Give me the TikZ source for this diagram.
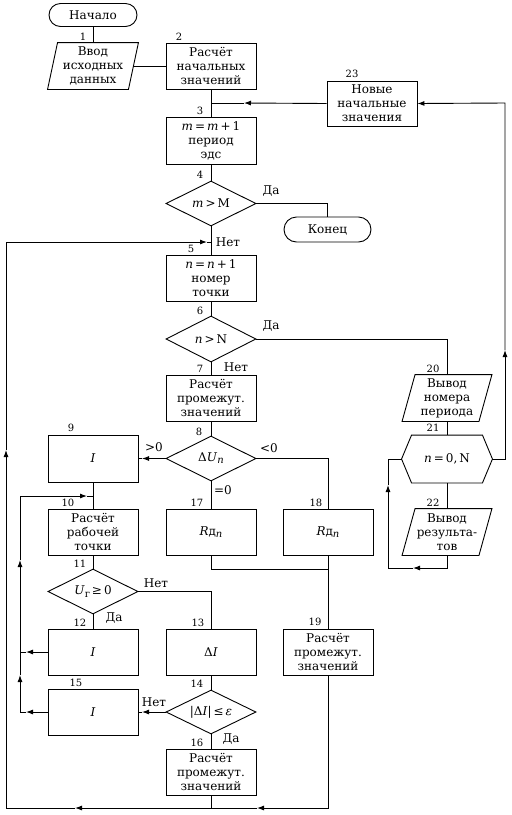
\documentclass[tikz,border=0pt]{standalone}
\usepackage{fontspec}
\setmainfont{DejaVu Serif}
\usetikzlibrary{shapes.geometric,shapes.misc,arrows.meta}
\newcommand{\vi}[1]{\textit{#1}}
\newcommand{\lowsub}[1]{\raisebox{-0.35ex}{\fontsize{10}{10}\selectfont #1}}
\begin{document}
\begin{tikzpicture}[x=1pt,y=-1pt,line width=0.9pt,
  every node/.style={font=\fontsize{12}{14}\selectfont},
  box/.style={draw,rectangle,minimum width=90pt,minimum height=46pt,align=center,inner sep=1pt},
  dia/.style={draw,diamond,aspect=2,minimum width=90pt,minimum height=45pt,inner sep=0pt},
  term/.style={draw,rounded rectangle,minimum width=90pt,minimum height=23pt,inner sep=1pt},
  plg/.style={rectangle,minimum width=76pt,minimum height=46pt,align=center,inner sep=1pt},
  num/.style={font=\fontsize{10}{11}\selectfont,inner sep=0pt},
  lbl/.style={inner sep=0pt},
  arr/.style={-{Latex[length=7pt,width=5pt]}}]
\fill[white] (0,0) rectangle (512,815);
\useasboundingbox (0,0) rectangle (512,815);

% nodes
\node[term] (start) at (93,15) {Начало};
\node[plg,minimum width=80pt] (p1) at (93,66) {Ввод\\исходных\\данных};
\draw ([xshift=5pt]p1.north west) -- ([xshift=5pt]p1.north east) -- ([xshift=-5pt]p1.south east) -- ([xshift=-5pt]p1.south west) -- cycle;
\node[box] (b2) at (211,66) {Расчёт\\начальных\\значений};
\node[box,minimum height=47pt] (b3) at (211,140.5) {\vi{m}\,=\,\vi{m}\,+\,1\\период\\эдс};
\node[box,minimum height=45pt] (b23) at (372,103.5) {Новые\\начальные\\значения};
\node[dia] (d4) at (211,203.5) {\vi{m}\,>\,M};
\node[term,minimum width=89pt,minimum height=25pt] (fin) at (327.5,229.5) {Конец};
\node[box] (b5) at (211,278) {\vi{n}\,=\,\vi{n}\,+\,1\\номер\\точки};
\node[dia,minimum height=46pt] (d6) at (211,339) {\vi{n}\,>\,N};
\node[box] (b7) at (211,398) {Расчёт\\промежут.\\значений};
\node[dia] (d8) at (211,458.5) {Δ\vi{U}\lowsub{\vi{n}}};
\node[box,minimum height=47pt] (b9) at (93,458.5) {\vi{I}};
\node[box] (b10) at (93,532) {Расчёт\\рабочей\\точки};
\node[dia] (d11) at (93,591.5) {\vi{U}\lowsub{г}\,≥\,0};
\node[box] (b12) at (93,652) {\vi{I}};
\node[box] (b15) at (93,712) {\vi{I}};
\node[box] (b13) at (211,652) {Δ\vi{I}};
\node[dia,minimum height=44pt] (d14) at (211,712) {|Δ\vi{I}|\,≤\,\vi{ε}};
\node[box] (b16) at (211,772) {Расчёт\\промежут.\\значений};
\node[box] (b17) at (211,532) {\vi{R}д\lowsub{\vi{n}}};
\node[box] (b18) at (328,532) {\vi{R}д\lowsub{\vi{n}}};
\node[box] (b19) at (328,652) {Расчёт\\промежут.\\значений};
\node[plg] (p20) at (447,398) {Вывод\\номера\\периода};
\draw ([xshift=6.5pt]p20.north west) -- ([xshift=6.5pt]p20.north east) -- ([xshift=-6.5pt]p20.south east) -- ([xshift=-6.5pt]p20.south west) -- cycle;
\node[rectangle,minimum width=90pt,minimum height=47pt,inner sep=0pt] (h21) at (447,459) {\vi{n}\,=\,0,\,N};
\draw (h21.west) -- ([xshift=10pt]h21.north west) -- ([xshift=-10pt]h21.north east) -- (h21.east) -- ([xshift=-10pt]h21.south east) -- ([xshift=10pt]h21.south west) -- cycle;
\node[plg] (p22) at (447,532) {Вывод\\результа-\\тов};
\draw ([xshift=6.5pt]p22.north west) -- ([xshift=6.5pt]p22.north east) -- ([xshift=-6.5pt]p22.south east) -- ([xshift=-6.5pt]p22.south west) -- cycle;

% coordinates
\coordinate (j3) at (211,103);
\coordinate (a23) at (244,103);
\coordinate (r1) at (505,459);
\coordinate (ar) at (505,350);
\coordinate (r2) at (505,103);
\coordinate (c4) at (327.5,203.5);
\coordinate (j5) at (211,242);
\coordinate (a5) at (207,242);
\coordinate (L2) at (6,242);
\coordinate (La) at (6,450);
\coordinate (L1) at (6,808);
\coordinate (ab1) at (75,808);
\coordinate (jb) at (211,808);
\coordinate (ab2) at (257,808);
\coordinate (c19) at (328,808);
\coordinate (c20) at (447,339);
\coordinate (a9) at (142,458.5);
\coordinate (c18) at (328,458.5);
\coordinate (c17) at (211,569);
\coordinate (c18b) at (328,569);
\coordinate (j10) at (93,496);
\coordinate (a10) at (87,496);
\coordinate (k3) at (20,496);
\coordinate (ak2) at (20,560);
\coordinate (k2) at (20,652);
\coordinate (ak1) at (20,675);
\coordinate (k1) at (20,712);
\coordinate (a12) at (26,652);
\coordinate (a15) at (26,712);
\coordinate (c13) at (211,591.5);
\coordinate (a14) at (142,712);
\coordinate (c22) at (447,568);
\coordinate (a22) at (413,568);
\coordinate (c22b) at (388,568);
\coordinate (a22u) at (388,485);
\coordinate (c22c) at (388,459);

% connectors
\draw (start.south) -- (p1.north);
\draw (p1.east) -- (b2.west);
\draw (b2.south) -- (b3.north);
\draw[arr] (b23.west) -- (a23);
\draw (a23) -- (j3);
\draw[arr] (h21.east) -- (r1) -- (ar);
\draw[arr] (ar) -- (r2) -- (b23.east);
\draw (b3.south) -- (d4.north);
\draw (d4.east) -- (c4) -- (fin.north);
\draw (d4.south) -- (b5.north);
\draw[arr] (jb) -- (ab1);
\draw[arr] (ab1) -- (L1) -- (La);
\draw[arr] (La) -- (L2) -- (a5);
\draw (a5) -- (j5);
\draw (b5.south) -- (d6.north);
\draw (d6.east) -- (c20) -- (p20.north);
\draw (d6.south) -- (b7.north);
\draw (b7.south) -- (d8.north);
\draw[arr] (d8.west) -- (a9);
\draw (a9) -- (b9.east);
\draw (d8.east) -- (c18) -- (b18.north);
\draw (d8.south) -- (b17.north);
\draw (b17.south) -- (c17) -- (c18b);
\draw (b18.south) -- (b19.north);
\draw (b9.south) -- (b10.north);
\draw (b10.south) -- (d11.north);
\draw (d11.east) -- (c13) -- (b13.north);
\draw (d11.south) -- (b12.north);
\draw (b13.south) -- (d14.north);
\draw[arr] (d14.west) -- (a14);
\draw (a14) -- (b15.east);
\draw (d14.south) -- (b16.north);
\draw (b16.south) -- (jb);
\draw[arr] (b19.south) -- (c19) -- (ab2);
\draw (ab2) -- (jb);
\draw[arr] (b15.west) -- (a15);
\draw (a15) -- (k1);
\draw[arr] (k1) -- (ak1);
\draw (ak1) -- (k2);
\draw[arr] (b12.west) -- (a12);
\draw (a12) -- (k2);
\draw[arr] (k2) -- (ak2);
\draw[arr] (ak2) -- (k3) -- (a10);
\draw (a10) -- (j10);
\draw (p20.south) -- (h21.north);
\draw (h21.south) -- (p22.north);
\draw[arr] (p22.south) -- (c22) -- (a22);
\draw[arr] (a22) -- (c22b) -- (a22u);
\draw (a22u) -- (c22c) -- (h21.west);

% numbers
\node[num] (n1) at (83,37) {1};
\node[num] (n2) at (179,37) {2};
\node[num] (n3) at (200,111) {3};
\node[num] (n23) at (352,74) {23};
\node[num] (n4) at (200,175) {4};
\node[num] (n5) at (191,249) {5};
\node[num] (n6) at (200,311) {6};
\node[num] (n7) at (200,369) {7};
\node[num] (n8) at (199,432) {8};
\node[num] (n9) at (71,428) {9};
\node[num] (n17) at (197,503) {17};
\node[num] (n18) at (316,503) {18};
\node[num] (n10) at (68,503) {10};
\node[num] (n11) at (80,564) {11};
\node[num] (n12) at (80,623) {12};
\node[num] (n13) at (198,623) {13};
\node[num] (n19) at (315,622) {19};
\node[num] (n14) at (197,684) {14};
\node[num] (n15) at (76,683) {15};
\node[num] (n16) at (197,743) {16};
\node[num] (n20) at (433,369) {20};
\node[num] (n21) at (433,428) {21};
\node[num] (n22) at (433,503) {22};

% branch labels
\node[lbl] (l1) at (271,191) {Да};
\node[lbl] (l2) at (228,242) {Нет};
\node[lbl] (l3) at (271,326) {Да};
\node[lbl] (l4) at (236,367) {Нет};
\node[lbl] (l5) at (154,447) {>0};
\node[lbl] (l6) at (269,448) {<0};
\node[lbl] (l7) at (223,490) {=0};
\node[lbl] (l8) at (156,583) {Нет};
\node[lbl] (l9) at (114,618) {Да};
\node[lbl] (l10) at (154,702) {Нет};
\node[lbl] (l11) at (231,739) {Да};
\end{tikzpicture}
\end{document}
